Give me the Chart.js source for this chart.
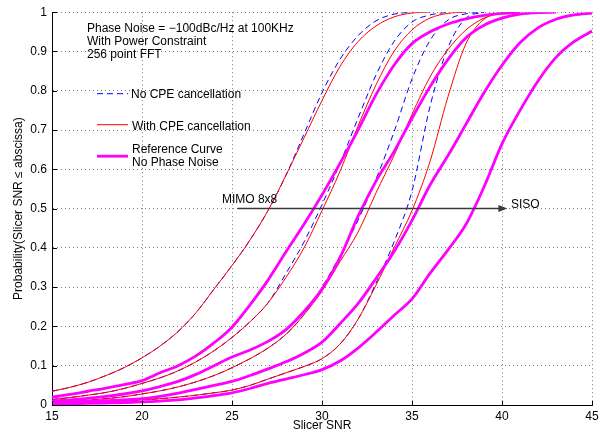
<!DOCTYPE html>
<html>
<head>
<meta charset="utf-8">
<script src="https://cdn.jsdelivr.net/npm/chart.js@4.4.0/dist/chart.umd.min.js"></script>
<style>
  html, body { margin: 0; padding: 0; background: #fff; }
  #chart { display: block; }
</style>
</head>
<body>
<canvas id="chart" width="603" height="436"></canvas>
<script>
// Slicer SNR sample positions (each series runs from 15 until it reaches 1)
const snr = [15, 16, 17, 18, 19, 20, 21, 22, 23, 24, 25, 26, 27, 28, 29, 30,
             31, 32, 33, 34, 35, 36, 37, 38, 39, 40, 41, 42, 43, 44, 45];

// No CPE cancellation (blue dashed)
const noCpeA = [0.035, 0.045, 0.058, 0.075, 0.095, 0.12, 0.15, 0.187, 0.235, 0.295, 0.355, 0.42, 0.495, 0.585,
                0.69, 0.795, 0.88, 0.94, 0.978, 0.995, 1];
const noCpeB = [0.014, 0.019, 0.025, 0.032, 0.042, 0.055, 0.069, 0.087, 0.11, 0.138, 0.172, 0.212, 0.26, 0.335,
                0.415, 0.51, 0.615, 0.73, 0.84, 0.925, 0.975, 0.993, 1];
const noCpeC = [0.007, 0.009, 0.012, 0.016, 0.021, 0.028, 0.036, 0.046, 0.059, 0.075, 0.095, 0.118, 0.145, 0.18,
                0.23, 0.3, 0.38, 0.47, 0.575, 0.695, 0.83, 0.928, 0.98, 0.996, 1];
const noCpeD = [0.004, 0.005, 0.006, 0.008, 0.01, 0.013, 0.016, 0.02, 0.025, 0.031, 0.038, 0.05, 0.066, 0.082,
                0.098, 0.118, 0.155, 0.218, 0.31, 0.415, 0.545, 0.76, 0.91, 0.985, 1];

// With CPE cancellation (red)
const withCpeA = [0.035, 0.045, 0.058, 0.075, 0.095, 0.12, 0.15, 0.187, 0.235, 0.295, 0.355, 0.42, 0.495, 0.585,
                  0.68, 0.775, 0.862, 0.925, 0.965, 0.988, 0.998, 1];
const withCpeB = [0.014, 0.019, 0.025, 0.032, 0.042, 0.055, 0.069, 0.087, 0.11, 0.138, 0.172, 0.212, 0.26, 0.325,
                  0.4, 0.495, 0.595, 0.71, 0.815, 0.9, 0.955, 0.985, 0.997, 1];
const withCpeC = [0.007, 0.009, 0.012, 0.016, 0.021, 0.028, 0.036, 0.046, 0.059, 0.075, 0.095, 0.118, 0.145, 0.18,
                  0.23, 0.29, 0.365, 0.44, 0.54, 0.635, 0.74, 0.835, 0.905, 0.955, 0.985, 0.997, 1];
const withCpeD = [0.004, 0.005, 0.006, 0.008, 0.01, 0.013, 0.016, 0.02, 0.025, 0.031, 0.038, 0.05, 0.066, 0.082,
                  0.098, 0.118, 0.155, 0.218, 0.305, 0.4, 0.495, 0.62, 0.785, 0.92, 0.982, 0.998, 1];

// Reference curves, no phase noise (magenta)
const refA = [0.02, 0.027, 0.035, 0.043, 0.052, 0.062, 0.082, 0.1, 0.125, 0.158, 0.198, 0.255, 0.318, 0.39,
              0.46, 0.535, 0.615, 0.7, 0.79, 0.865, 0.92, 0.95, 0.97, 0.983, 0.992, 0.997, 1];
const refB = [0.01, 0.013, 0.017, 0.022, 0.028, 0.036, 0.047, 0.06, 0.078, 0.1, 0.122, 0.14, 0.162, 0.192,
              0.238, 0.295, 0.375, 0.48, 0.57, 0.645, 0.73, 0.81, 0.88, 0.935, 0.967, 0.985, 0.995, 0.999, 1];
const refC = [0.006, 0.007, 0.009, 0.011, 0.013, 0.016, 0.022, 0.03, 0.04, 0.05, 0.06, 0.075, 0.092, 0.11,
              0.132, 0.16, 0.207, 0.258, 0.322, 0.39, 0.47, 0.56, 0.635, 0.715, 0.795, 0.865, 0.922, 0.96, 0.982,
              0.993, 0.998];
const refD = [0.002, 0.003, 0.004, 0.005, 0.006, 0.008, 0.01, 0.013, 0.018, 0.024, 0.031, 0.042, 0.055, 0.066,
              0.077, 0.09, 0.112, 0.145, 0.185, 0.228, 0.27, 0.335, 0.395, 0.46, 0.555, 0.665, 0.75, 0.825, 0.885,
              0.925, 0.952];

// axis ticks
const xTicks = [15, 20, 25, 30, 35, 40, 45];
const xTickLabels = ['15', '20', '25', '30', '35', '40', '45'];
const yTicks = [0, 0.1, 0.2, 0.3, 0.4, 0.5, 0.6, 0.7, 0.8, 0.9, 1];
const yTickLabels = ['0', '0.1', '0.2', '0.3', '0.4', '0.5', '0.6', '0.7', '0.8', '0.9', '1'];

// arrow annotation (MIMO 8x8 -> SISO)
const arrowFrom = 25.3;
const arrowTo = 40.3;
const arrowLevel = 0.5;

const FONT = '"Liberation Sans", Arial, Helvetica, sans-serif';
const BLUE = '#0000ff';
const RED = '#ff0000';
const MAGENTA = '#ff00ff';

function makeSet(values, color, width, dash, order) {
    return {
        data: values.map((v, i) => ({ x: snr[i], y: v })),
        borderColor: color,
        borderWidth: width,
        borderDash: dash,
        cubicInterpolationMode: 'monotone',
        pointRadius: 0,
        fill: false,
        order: order
    };
}

const datasets = [
    ...[refA, refB, refC, refD].map(v => makeSet(v, MAGENTA, 2.8, [], 0)),
    ...[withCpeA, withCpeB, withCpeC, withCpeD].map(v => makeSet(v, RED, 1, [], 1)),
    ...[noCpeA, noCpeB, noCpeC, noCpeD].map(v => makeSet(v, BLUE, 1, [6, 4], 2))
];

const overlay = {
    id: 'overlay',
    afterDraw(chart) {
        const { ctx, chartArea: a, scales: { x, y } } = chart;
        ctx.save();

        // inward tick marks
        ctx.strokeStyle = '#000';
        ctx.lineWidth = 1;
        ctx.beginPath();
        xTicks.forEach(v => {
            const px = Math.round(x.getPixelForValue(v)) + 0.5;
            ctx.moveTo(px, a.bottom);
            ctx.lineTo(px, a.bottom - 4);
        });
        yTicks.forEach(v => {
            const py = Math.round(y.getPixelForValue(v)) + 0.5;
            ctx.moveTo(a.left, py);
            ctx.lineTo(a.left + 5, py);
        });
        ctx.stroke();

        ctx.fillStyle = '#000';
        ctx.font = '12px ' + FONT;
        ctx.textBaseline = 'middle';
        ctx.textAlign = 'left';

        // header text
        ctx.fillText('Phase Noise = \u2212100dBc/Hz at 100KHz', a.left + 35, a.top + 16);
        ctx.fillText('With Power Constraint', a.left + 35, a.top + 29);
        ctx.fillText('256 point FFT', a.left + 35, a.top + 42);

        // legend
        const lx0 = a.left + 45, lx1 = a.left + 76;
        ctx.lineWidth = 1;
        ctx.strokeStyle = BLUE;
        ctx.setLineDash([6, 4]);
        ctx.beginPath(); ctx.moveTo(lx0, a.top + 81.5); ctx.lineTo(lx1, a.top + 81.5); ctx.stroke();
        ctx.setLineDash([]);
        ctx.strokeStyle = RED;
        ctx.beginPath(); ctx.moveTo(lx0, a.top + 112.5); ctx.lineTo(lx1, a.top + 112.5); ctx.stroke();
        ctx.strokeStyle = MAGENTA;
        ctx.lineWidth = 2.8;
        ctx.beginPath(); ctx.moveTo(lx0, a.top + 144); ctx.lineTo(lx1, a.top + 144); ctx.stroke();
        ctx.fillText('No CPE cancellation', a.left + 79, a.top + 82);
        ctx.fillText('With CPE cancellation', a.left + 80, a.top + 114);
        ctx.fillText('Reference Curve', a.left + 80, a.top + 137);
        ctx.fillText('No Phase Noise', a.left + 80, a.top + 150);

        // arrow
        const ax0 = x.getPixelForValue(arrowFrom);
        const ax1 = x.getPixelForValue(arrowTo);
        const ay = y.getPixelForValue(arrowLevel);
        ctx.strokeStyle = '#3a3a3a';
        ctx.fillStyle = '#3a3a3a';
        ctx.lineWidth = 1.5;
        ctx.beginPath(); ctx.moveTo(ax0, ay); ctx.lineTo(ax1 - 7, ay); ctx.stroke();
        ctx.beginPath();
        ctx.moveTo(ax1, ay);
        ctx.lineTo(ax1 - 9, ay - 3.5);
        ctx.lineTo(ax1 - 9, ay + 3.5);
        ctx.closePath();
        ctx.fill();

        ctx.fillStyle = '#000';
        ctx.fillText('MIMO 8x8', ax0 - 15.5, ay - 8.5);
        ctx.fillText('SISO', ax1 + 3.5, ay - 4);

        // axis titles
        ctx.textAlign = 'center';
        ctx.fillText('Slicer SNR', (a.left + a.right) / 2, 426);
        ctx.translate(19, (a.top + a.bottom) / 2);
        ctx.rotate(-Math.PI / 2);
        ctx.fillText('Probability(Slicer SNR \u2264 abscissa)', 0, 0);

        ctx.restore();
    }
};

new Chart(document.getElementById('chart').getContext('2d'), {
    type: 'line',
    data: { datasets: datasets },
    options: {
        responsive: false,
        animation: false,
        layout: { padding: { left: 0, right: 11, top: 10, bottom: 0 } },
        plugins: {
            legend: { display: false },
            tooltip: { enabled: false }
        },
        scales: {
            x: {
                type: 'linear',
                min: 15,
                max: 45,
                afterBuildTicks: s => { s.ticks = xTicks.map(v => ({ value: v })); },
                afterFit: s => { s.height = 31; },
                ticks: {
                    color: '#000',
                    font: { family: FONT, size: 12 },
                    padding: 4,
                    maxRotation: 0,
                    autoSkip: false,
                    callback: (v, i) => xTickLabels[i]
                },
                grid: { color: '#7a7a7a', lineWidth: 1, drawTicks: false },
                border: { display: true, color: '#000', width: 1, dash: [1, 3] }
            },
            y: {
                type: 'linear',
                min: 0,
                max: 1,
                afterBuildTicks: s => { s.ticks = yTicks.map(v => ({ value: v })); },
                afterFit: s => { s.width = 52; },
                ticks: {
                    color: '#000',
                    font: { family: FONT, size: 12 },
                    padding: 5,
                    autoSkip: false,
                    callback: (v, i) => yTickLabels[i]
                },
                grid: { color: '#7a7a7a', lineWidth: 1, drawTicks: false },
                border: { display: true, color: '#000', width: 1, dash: [1, 3] }
            }
        }
    },
    plugins: [overlay]
});
</script>
</body>
</html>
